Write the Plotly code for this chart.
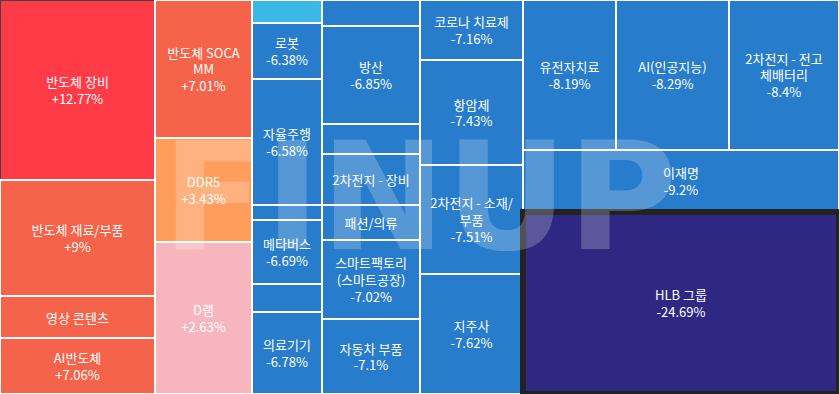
import plotly.graph_objects as go

# ---- data ----
columns = ["c1", "c2", "c3", "c4", "c5", "c6"]

names = [
    "반도체 장비", "반도체 재료/부품", "영상 콘텐츠", "AI반도체",
    "반도체 SOCAMM", "DDR5", "D램",
    "_c3a", "로봇", "자율주행", "_c3b", "메타버스", "_c3c", "의료기기",
    "_c4a", "방산", "_c4b", "2차전지 - 장비", "패션/의류", "스마트팩토리(스마트공장)", "자동차 부품",
    "코로나 치료제", "항암제", "2차전지 - 소재/부품", "지주사",
    "유전자치료", "AI(인공지능)", "2차전지 - 전고체배터리", "이재명", "HLB 그룹",
]
display = [
    "반도체 장비", "반도체 재료/부품", "영상 콘텐츠", "AI반도체",
    "반도체 SOCA<br>MM", "DDR5", "D램",
    "", "로봇", "자율주행", "", "메타버스", "", "의료기기",
    "", "방산", "", "2차전지 - 장비", "패션/의류", "스마트팩토리<br>(스마트공장)", "자동차 부품",
    "코로나 치료제", "항암제", "2차전지 - 소재/<br>부품", "지주사",
    "유전자치료", "AI(인공지능)", "2차전지 - 전고<br>체배터리", "이재명", "HLB 그룹",
]
groups = [
    "c1", "c1", "c1", "c1",
    "c2", "c2", "c2",
    "c3", "c3", "c3", "c3", "c3", "c3", "c3",
    "c4", "c4", "c4", "c4", "c4", "c4", "c4",
    "c5", "c5", "c5", "c5",
    "c6top", "c6top", "c6top", "c6", "c6",
]
changes = [
    12.77, 9.0, None, 7.06,
    7.01, 3.43, 2.63,
    None, -6.38, -6.58, None, -6.69, None, -6.78,
    None, -6.85, None, None, None, -7.02, -7.1,
    -7.16, -7.43, -7.51, -7.62,
    -8.19, -8.29, -8.4, -9.2, -24.69,
]
sizes = [
    27900, 17980, 6510, 8680,
    13386, 10088, 14744,
    1610, 3920, 8820, 1050, 4480, 1960, 5740,
    2548, 9604, 2940, 4998, 3430, 7742, 7350,
    6180, 10815, 11227, 12360,
    13950, 16950, 16500, 19592, 57512,
]
tile_colors = [
    "#FF3B47", "#F5634A", "#F5634A", "#F5634A",
    "#F5634A", "#FF9D5C", "#F7B6BD",
    "#3BB7E8", "#277CCB", "#277CCB", "#277CCB", "#277CCB", "#277CCB", "#277CCB",
    "#277CCB", "#277CCB", "#277CCB", "#277CCB", "#277CCB", "#277CCB", "#277CCB",
    "#277CCB", "#277CCB", "#277CCB", "#277CCB",
    "#277CCB", "#277CCB", "#277CCB", "#277CCB", "#2E2882",
]

# ---- build hierarchy ----
ids, labels, parents, values, colors, texts, lcol, lwid = [], [], [], [], [], [], [], []
for c in columns:
    ids.append(c); labels.append(""); parents.append(""); values.append(0)
    colors.append("#FFFFFF"); texts.append(""); lcol.append("#FFFFFF"); lwid.append(0)
ids.append("c6top"); labels.append(""); parents.append("c6"); values.append(0)
colors.append("#FFFFFF"); texts.append(""); lcol.append("#FFFFFF"); lwid.append(0)

for n, d, g, ch, s, col in zip(names, display, groups, changes, sizes, tile_colors):
    ids.append(n)
    labels.append("" if n.startswith("_") else n)
    parents.append(g)
    values.append(s)
    colors.append(col)
    if ch is None:
        texts.append(d)
    else:
        pct = ("+" if ch > 0 else "") + (f"{ch:g}") + "%"
        texts.append(f"{d}<br>{pct}")
    if n == "HLB 그룹":
        lcol.append("#222222"); lwid.append(6)
    else:
        lcol.append("#FFFFFF"); lwid.append(2)

fig = go.Figure(go.Treemap(
    ids=ids,
    labels=labels,
    parents=parents,
    values=values,
    branchvalues="remainder",
    sort=False,
    customdata=texts,
    texttemplate="%{customdata}",
    textposition="middle center",
    textfont=dict(family="Noto Sans CJK KR", size=13, color="white"),
    marker=dict(colors=colors, line=dict(color=lcol, width=lwid),
                pad=dict(t=0, l=0, r=0, b=0)),
    tiling=dict(packing="slice-dice", pad=0),
    pathbar=dict(visible=False),
    hoverinfo="skip",
))

fig.add_annotation(
    text="<b>FINUP</b>", x=0.5, y=0.5, xref="paper", yref="paper",
    showarrow=False,
    font=dict(family="DejaVu Sans", size=150, color="rgba(255,255,255,0.22)"),
)

fig.update_layout(
    width=839, height=394,
    margin=dict(l=0, r=0, t=0, b=0),
    paper_bgcolor="white",
    uniformtext=dict(minsize=13, mode="show"),
)

fig.write_html("out.html",
               config={"displayModeBar": False},
               post_script="document.body.style.margin='0';document.body.style.overflow='hidden';")
